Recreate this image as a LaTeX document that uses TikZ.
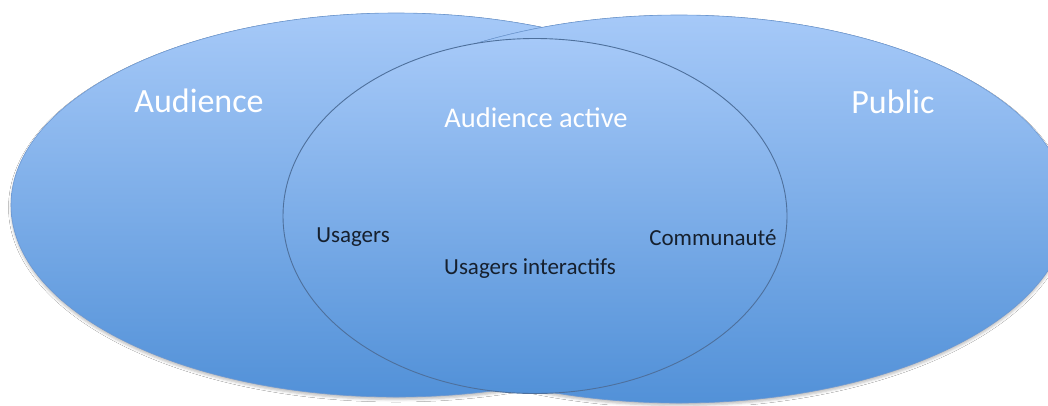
\documentclass[tikz,border=0pt]{standalone}
\usepackage{fontspec}
\setmainfont{Carlito}
\usetikzlibrary{shapes.geometric,shadows.blur}
\definecolor{skytop}{RGB}{166,201,248}
\definecolor{skybot}{RGB}{82,145,216}
\definecolor{rimblue}{RGB}{108,152,210}
\definecolor{innerrim}{RGB}{78,112,156}
\definecolor{inktext}{RGB}{22,32,46}

\begin{document}
\begin{tikzpicture}[x=1pt,y=-1pt,
  zone/.style={ellipse,inner sep=0pt,top color=skytop,bottom color=skybot,draw=rimblue,line width=0.6pt},
  soft/.style={blur shadow={shadow xshift=0pt,shadow yshift=-2.5pt,shadow blur radius=2.5pt,shadow opacity=25}},
  big/.style={anchor=base,text=white,font=\fontsize{34}{40}\selectfont},
  mid/.style={anchor=base,text=white,font=\fontsize{28.5}{34}\selectfont},
  small/.style={anchor=base,text=inktext,font=\fontsize{23}{27}\selectfont}]
\useasboundingbox (0,0) rectangle (1048,405);
\fill[white] (0,0) rectangle (1048,405);
% the two large sets, then the active one on top
\node[zone,soft,minimum width=770pt,minimum height=384pt] (aud) at (396,205) {};
\node[zone,soft,minimum width=778pt,minimum height=388pt] (pub) at (679,209) {};
\node[zone,draw=innerrim,line width=0.9pt,minimum width=504pt,minimum height=355pt] (act) at (535,216) {};
\node[big] (laud) at (199,112) {Audience};
\node[big] (lpub) at (893,113) {Public};
\node[mid] (lact) at (536,127) {Audience active};
\node[small] (lusa) at (353,242) {Usagers};
\node[small] (lint) at (530,274) {Usagers interactifs};
\node[small] (lcom) at (713,245) {Communauté};
\end{tikzpicture}
\end{document}
